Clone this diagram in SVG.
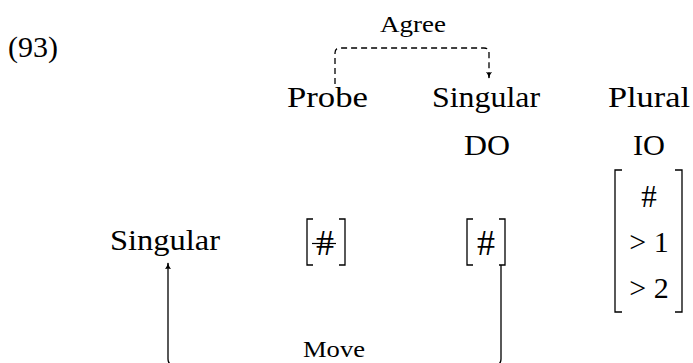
<svg xmlns="http://www.w3.org/2000/svg" width="693" height="363" viewBox="0 0 693 363">
<defs>
<style>
text{font-family:"Liberation Serif","Times New Roman",serif;fill:#000}
.t{font-size:30px}
.s{font-size:23px}
.hash{font-size:36px;text-anchor:middle}
.br{fill:none;stroke:#000;stroke-width:1.3}
.conn{fill:none;stroke:#000;stroke-width:1.3}
.dash{stroke-dasharray:6 4}
</style>
<marker id="ah" viewBox="0 0 10 10" refX="9" refY="5" markerWidth="7" markerHeight="7" markerUnits="userSpaceOnUse" orient="auto">
<path d="M0,0.5 Q4,4 10,5 Q4,6 0,9.5 Q2.5,5 0,0.5 Z" fill="#000"/>
</marker>
</defs>
<rect width="693" height="363" fill="#fff"/>
<g id="example-number"><text class="t" x="8" y="57" textLength="50" lengthAdjust="spacingAndGlyphs">(93)</text></g>
<g id="probe"><text class="t" x="287" y="107" textLength="81" lengthAdjust="spacingAndGlyphs">Probe</text></g>
<g id="singular-do"><text class="t" x="432" y="107" textLength="108" lengthAdjust="spacingAndGlyphs">Singular</text></g>
<g id="plural-io"><text class="t" x="608" y="107" textLength="82" lengthAdjust="spacingAndGlyphs">Plural</text></g>
<g id="do"><text class="t" x="464" y="155" textLength="46" lengthAdjust="spacingAndGlyphs">DO</text></g>
<g id="io"><text class="t" x="633" y="155" textLength="32" lengthAdjust="spacingAndGlyphs">IO</text></g>
<g id="singular-moved"><text class="t" x="110" y="250" textLength="110" lengthAdjust="spacingAndGlyphs">Singular</text></g>
<g id="probe-feature">
<path class="br" d="M313,219 H307 V265 H313"/>
<path class="br" d="M339,219 H345 V265 H339"/>
<text class="hash" x="325" y="255">#</text>
<line x1="312" y1="243.5" x2="336" y2="243.5" stroke="#000" stroke-width="1.2"/>
</g>
<g id="do-feature">
<path class="br" d="M473,219 H467 V265 H473"/>
<path class="br" d="M499,219 H505 V265 H499"/>
<text class="hash" x="486" y="255">#</text>
</g>
<g id="io-features">
<path class="br" d="M622,170 H615 V312 H622"/>
<path class="br" d="M675,170 H682 V312 H675"/>
<text class="t" x="649" y="207" text-anchor="middle" style="font-size:31px">#</text>
<text class="t" x="649" y="252" text-anchor="middle">&gt; 1</text>
<text class="t" x="649" y="298" text-anchor="middle">&gt; 2</text>
</g>
<g id="connectors">
<path class="conn dash" d="M335,84 V53 Q335,48 340,48 H484 Q489,48 489,53 V78" marker-end="url(#ah)"/>
<text class="s" x="380" y="32" textLength="66" lengthAdjust="spacingAndGlyphs">Agree</text>
<path class="conn" d="M501,265 V359 Q501,365 495,365 H174 Q168,365 168,359 V263" marker-end="url(#ah)"/>
<text class="s" x="303" y="357" textLength="62" lengthAdjust="spacingAndGlyphs">Move</text>
</g>
</svg>
